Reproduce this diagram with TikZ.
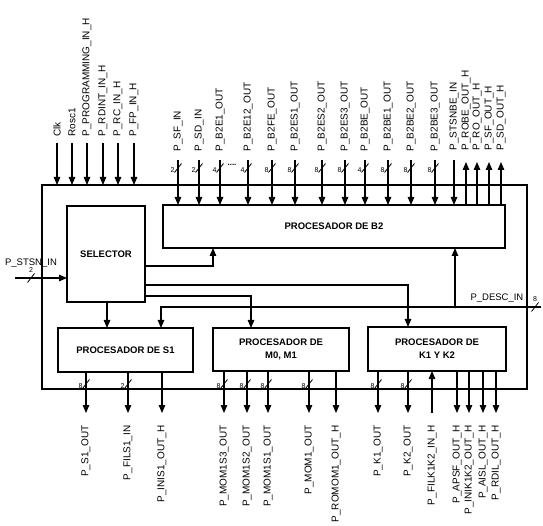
\documentclass[tikz,border=0pt]{standalone}
\usepackage{fontspec}
\setmainfont{Liberation Sans}
\usetikzlibrary{arrows.meta,calc}
\begin{document}
\begin{tikzpicture}[x=1pt,y=-1pt, line width=1.1pt,
  arr/.style={-{Triangle[width=6.5pt,length=8pt]}},
  blk/.style={draw, inner sep=0, outer sep=0, font=\bfseries\fontsize{9.5}{13}\selectfont},
  pin/.style={inner sep=0, rotate=90, font=\fontsize{10}{12}\selectfont},
  num/.style={inner sep=0, font=\fontsize{7}{8}\selectfont},
  pics/bus/.style={code={\draw[line width=0.8pt] (-3.5,4.5) -- (3.5,-4.5); \node[num] (-n) at (-5.5,2) {#1};}},
  pics/hbus/.style={code={\draw[line width=0.8pt] (-3.5,4.5) -- (3.5,-4.5); \node[num] (-n) at (0,-8) {#1};}}
]
\useasboundingbox (0,0) rectangle (543,526);
% blocks
\node[draw, inner sep=0, outer sep=0, minimum width=485pt, minimum height=204pt] (outer) at (284.5,287) {};
\node[blk, minimum width=78pt, minimum height=96pt] (sel) at (106,254) {SELECTOR};
\node[blk, minimum width=342pt, minimum height=43pt] (b2) at (334,226.5) {PROCESADOR DE B2};
\node[blk, minimum width=135pt, minimum height=44pt] (s1) at (125.5,350) {PROCESADOR DE S1};
\node[blk, minimum width=136pt, minimum height=43pt, align=center] (m0) at (281,349.5) {PROCESADOR DE\\M0, M1};
\node[blk, minimum width=138pt, minimum height=44pt, align=center] (k1) at (437,349) {PROCESADOR DE\\K1 Y K2};

% top-left inputs
\foreach \x/\t in {57/Clk,72/Rosc1,87/P\_PROGRAMMING\_IN\_H,103/P\_RDINT\_IN\_H,118/P\_RC\_IN\_H,134/P\_FP\_IN\_H}{
  \coordinate (tl\x) at (\x,143);
  \draw[arr] (tl\x) -- (tl\x |- outer.north);
  \node[pin, anchor=west] (ltl\x) at (\x,137) {\t};
}
% B2 bus inputs
\foreach \x/\t/\n in {178/P\_SF\_IN/2,199/P\_SD\_IN/2,220/P\_B2E1\_OUT/4,248/P\_B2E12\_OUT/4,272/P\_B2FE\_OUT/8,295/P\_B2ES1\_OUT/8,322/P\_B2ES2\_OUT/8,345/P\_B2ES3\_OUT/8,365/P\_B2BE\_OUT/4,388/P\_B2BE1\_OUT/8,411/P\_B2BE2\_OUT/8,435/P\_B2BE3\_OUT/8}{
  \coordinate (bi\x) at (\x,160);
  \draw[arr] (bi\x) -- (bi\x |- b2.north);
  \pic (sb\x) at (\x,168) {bus=\n};
  \node[pin, anchor=west] (lbi\x) at (\x,152) {\t};
}
\node[inner sep=0, font=\bfseries\fontsize{8}{8}\selectfont] (dots) at (232,165) {....};
% STSNBE input
\coordinate (stsnbe) at (454,160);
\draw[arr] (stsnbe) -- (stsnbe |- b2.north);
\node[pin, anchor=west] (lstsnbe) at (454,151) {P\_STSNBE\_IN};
% B2 outputs up
\foreach \x/\t in {466/P\_ROBE\_OUT\_H,477/P\_RO\_OUT\_H,489/P\_SF\_OUT\_H,501/P\_SD\_OUT\_H}{
  \coordinate (bo\x) at (\x,162);
  \draw[arr] (bo\x |- b2.north) -- (bo\x);
  \node[pin, anchor=west] (lbo\x) at (\x,151) {\t};
}

% P_STSN_IN
\coordinate (stsn) at (15,278);
\draw[arr] (stsn) -- (stsn -| sel.west);
\pic (sbst) at (31,278) {hbus=2};
\node[inner sep=0, font=\fontsize{9.5}{11}\selectfont, anchor=base] (lstsn) at (31,266) {P\_STSN\_IN};

% selector connections
\coordinate (c1) at (213,266);
\draw[arr] (sel.east |- c1) -- (c1) -- (c1 |- b2.south);
\coordinate (c2) at (408,285);
\draw[arr] (sel.east |- c2) -- (c2) -- (c2 |- k1.north);
\coordinate (c3) at (251,296);
\draw[arr] (sel.east |- c3) -- (c3) -- (c3 |- m0.north);
\coordinate (c4) at (107,302);
\draw[arr] (c4 |- sel.south) -- (c4 |- s1.north);

% P_DESC_IN
\coordinate (desc) at (541,307);
\coordinate (dl) at (161,307);
\coordinate (dj) at (455,307);
\draw[arr] (desc) -- (dl) -- (dl |- s1.north);
\fill (dj) circle (1.5pt);
\draw[arr] (dj) -- (dj |- b2.south);
\pic (sbdesc) at (535,307) {hbus=8};
\node[inner sep=0, font=\fontsize{9.5}{11}\selectfont, anchor=base west] (ldesc) at (470,301) {P\_DESC\_IN};

% bottom outputs with bus width
\foreach \x/\t/\n/\b in {86/P\_S1\_OUT/8/s1,128/P\_FILS1\_IN/2/s1,224/P\_MOM1S3\_OUT/8/m0,247/P\_MOM1S2\_OUT/8/m0,268/P\_MOM1S1\_OUT/8/m0,309/P\_MOM1\_OUT/8/m0,378/P\_K1\_OUT/8/k1,408/P\_K2\_OUT/8/k1}{
  \coordinate (bt\x) at (\x,413);
  \draw[arr] (bt\x |- \b.south) -- (bt\x);
  \pic (sbb\x) at (\x,384) {bus=\n};
  \node[pin, anchor=east] (lbt\x) at (\x,425) {\t};
}
% bottom single outputs
\foreach \x/\t/\b in {162/P\_INIS1\_OUT\_H/s1,336/P\_ROMOM1\_OUT\_H/m0,457/P\_APSF\_OUT\_H/k1,469/P\_INIK1K2\_OUT\_H/k1,483/P\_AISL\_OUT\_H/k1,496/P\_RDIL\_OUT\_H/k1}{
  \coordinate (bs\x) at (\x,413);
  \draw[arr] (bs\x |- \b.south) -- (bs\x);
  \node[pin, anchor=east] (lbs\x) at (\x,425) {\t};
}
% FILK1K2 input
\coordinate (filk) at (432,413);
\draw[arr] (filk) -- (filk |- k1.south);
\node[pin, anchor=east] (lfilk) at (432,425) {P\_FILK1K2\_IN\_H};
\end{tikzpicture}
\end{document}
